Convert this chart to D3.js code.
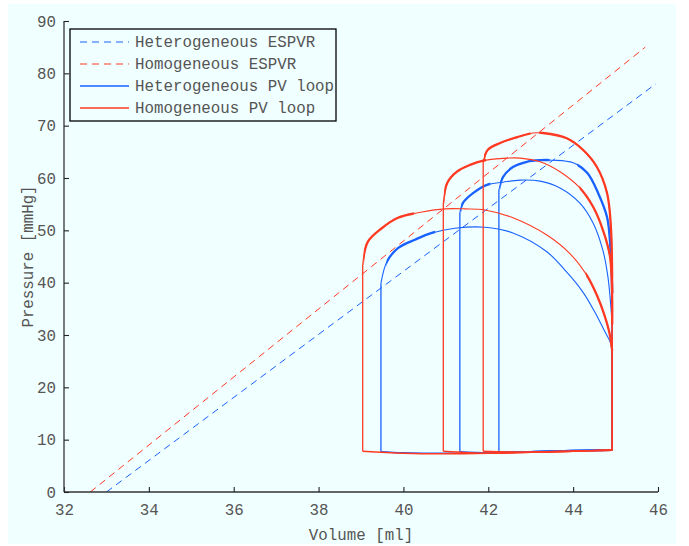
<!DOCTYPE html>
<html>
<head>
<meta charset="utf-8">
<script src="https://cdn.jsdelivr.net/npm/d3@7"></script>
<style>
  html, body { margin: 0; padding: 0; background: #ffffff; }
  svg { display: block; }
</style>
</head>
<body>
<svg id="chart" width="689" height="546"></svg>
<script>
// ---------------- DATA ----------------
const xTicks = [32, 34, 36, 38, 40, 42, 44, 46];
const yTicks = [0, 10, 20, 30, 40, 50, 60, 70, 80, 90];

const legendLabels = ["Heterogeneous ESPVR", "Homogeneous ESPVR", "Heterogeneous PV loop", "Homogeneous PV loop"];

// ESPVR lines (volume ml, pressure mmHg)
const heteroEspvrV = [33.0, 45.95];
const heteroEspvrP = [0, 78];
const homoEspvrV = [32.62, 45.7];
const homoEspvrP = [0, 85];

// End-diastolic volume shared by all loops
const edv = 44.92;

// End-systolic volumes of the three loops
const heteroESV = [39.47, 41.33, 42.25];
const homoESV = [39.04, 40.94, 41.88];

// Ejection arcs, from valve opening (right) to end systole (left): [V, P]
const heteroArcA = [[44.92, 26], [44.88, 28.5], [44.75, 30.6], [44.51, 34.4], [44.23, 38.2], [43.85, 42.0], [43.38, 45.9], [42.58, 49.5], [41.92, 50.6], [41.21, 50.4], [40.67, 49.5], [40.27, 48.2], [39.87, 46.6], [39.61, 44.0], [39.47, 39.9]];
const heteroArcB = [[44.92, 32], [44.82, 41.1], [44.70, 46.2], [44.47, 51.4], [44.16, 55.2], [43.69, 58.1], [43.22, 59.4], [42.75, 59.6], [42.35, 59.2], [41.97, 58.7], [41.64, 57.1], [41.40, 55.2], [41.33, 53.3]];
const heteroArcC = [[44.92, 38], [44.88, 46.5], [44.80, 52.5], [44.59, 57.1], [44.33, 61.0], [44.00, 62.9], [43.52, 63.4], [43.22, 63.4], [42.91, 63.1], [42.58, 62.1], [42.35, 60.2], [42.25, 57.7]];

const homoArcA = [[44.92, 27], [44.85, 30.6], [44.73, 34.0], [44.56, 37.6], [44.33, 41.3], [43.93, 45.5], [43.38, 49.1], [42.58, 52.4], [41.92, 53.9], [41.45, 54.1], [40.98, 54.1], [40.44, 53.5], [39.87, 52.4], [39.49, 50.4], [39.16, 47.8], [39.04, 43.4]];
const homoArcB = [[44.92, 32], [44.87, 44.9], [44.70, 50.1], [44.47, 54.5], [44.16, 58.1], [43.69, 61.2], [43.22, 63.1], [42.75, 63.8], [42.44, 63.8], [41.88, 63.3], [41.57, 62.5], [41.26, 61.2], [41.03, 59.0], [40.94, 55.2]];
const homoArcC = [[44.92, 38], [44.89, 50.6], [44.80, 57.1], [44.56, 62.1], [44.23, 65.4], [43.85, 67.6], [43.29, 68.6], [43.05, 68.6], [42.68, 67.8], [42.28, 66.7], [41.99, 65.4], [41.88, 63.1]];

// Filling phase (bottom of loops)
const fillV = [39.0, 40.0, 41.0, 42.0, 43.0, 44.0, 44.92];
const heteroFillP = [7.7, 7.5, 7.4, 7.5, 7.7, 7.9, 8.0];
const homoFillP = [7.8, 7.4, 7.3, 7.4, 7.6, 7.8, 8.0];

// Volume ranges where the traces are heavy (noisy)
const heteroHeavy = [[[39.6, 40.7]], [[41.36, 42.0]], [[42.28, 43.4], [44.1, 44.92]]];
const homoHeavy = [[[39.06, 40.2], [44.3, 44.92]], [[40.96, 41.9], [44.15, 44.92]], [[41.9, 42.95], [43.2, 44.92]]];

// ---------------- STYLE ----------------
const blue = "#1a62ff";
const red = "#ff3a22";
const bg = "#f0ffff";
const font = "'Liberation Mono', 'Courier New', monospace";
const textColor = "#555";
const fontSize = "15.8px";

// ---------------- LAYOUT ----------------
const svg = d3.select("#chart");
const margin = { left: 64, top: 21, right: 31, bottom: 54 };
const W = 689, H = 546;
const innerW = W - margin.left - margin.right;
const innerH = H - margin.top - margin.bottom;

svg.append("rect").attr("x", 8).attr("y", 4).attr("width", 668).attr("height", 540).attr("fill", bg);

const x = d3.scaleLinear().domain([32, 46]).range([0, innerW]);
const y = d3.scaleLinear().domain([0, 90]).range([innerH, 0]);

const g = svg.append("g").attr("transform", `translate(${margin.left},${margin.top})`);

const defs = svg.append("defs");
defs.append("clipPath").attr("id", "plotclip").append("rect")
  .attr("x", 0).attr("y", 0).attr("width", innerW).attr("height", innerH);

const plot = g.append("g").attr("clip-path", "url(#plotclip)");

// ESPVR dashed lines
function espvr(vs, ps, color) {
  const pts = vs.map((v, i) => [v, ps[i]]);
  plot.append("path")
    .attr("d", d3.line().x(d => x(d[0])).y(d => y(d[1]))(pts))
    .attr("fill", "none").attr("stroke", color).attr("stroke-width", 1)
    .attr("stroke-dasharray", "7,5");
}
espvr(heteroEspvrV, heteroEspvrP, blue);
espvr(homoEspvrV, homoEspvrP, red);

const curve = d3.curveCatmullRom.alpha(0.5);
const lineGen = d3.line().x(d => x(d[0])).y(d => y(d[1])).curve(curve);
const straight = d3.line().x(d => x(d[0])).y(d => y(d[1]));

let clipId = 0;
function drawLoops(arcs, esvs, fillP, heavy, color) {
  arcs.forEach((arc, k) => {
    const esv = esvs[k];
    const right = [[edv, fillP[fillP.length - 1]], arc[0]];
    const left = [arc[arc.length - 1], [esv, fillP[0]]];
    const bottom = [[esv, fillP[0]]].concat(fillV.map((v, i) => [v, fillP[i]]).filter(d => d[0] > esv + 0.2));
    plot.append("path").attr("d", straight(right)).attr("fill", "none").attr("stroke", color).attr("stroke-width", 1.3);
    plot.append("path").attr("d", straight(left)).attr("fill", "none").attr("stroke", color).attr("stroke-width", 1.3);
    plot.append("path").attr("d", lineGen(bottom)).attr("fill", "none").attr("stroke", color).attr("stroke-width", 1.6);
    plot.append("path").attr("d", lineGen(arc)).attr("fill", "none").attr("stroke", color).attr("stroke-width", 1.1);
    // heavy (noisy) segments
    heavy[k].forEach(r => {
      const id = "hv" + (clipId++);
      defs.append("clipPath").attr("id", id).append("rect")
        .attr("x", x(r[0])).attr("y", 0)
        .attr("width", x(r[1]) - x(r[0]) + 2).attr("height", innerH);
      plot.append("g").attr("clip-path", `url(#${id})`)
        .append("path").attr("d", lineGen(arc)).attr("fill", "none")
        .attr("stroke", color).attr("stroke-width", 2.3);
    });
  });
}
drawLoops([heteroArcA, heteroArcB, heteroArcC], heteroESV, heteroFillP, heteroHeavy, blue);
drawLoops([homoArcA, homoArcB, homoArcC], homoESV, homoFillP, homoHeavy, red);

// ---------------- AXES ----------------
const xAxis = d3.axisBottom(x).tickValues(xTicks).tickSize(-5).tickPadding(12).tickFormat(d3.format("d"));
const yAxis = d3.axisLeft(y).tickValues(yTicks).tickSize(-5).tickPadding(8).tickFormat(d3.format("d"));

const gx = g.append("g").attr("transform", `translate(0,${innerH})`).call(xAxis);
const gy = g.append("g").call(yAxis);
[gx, gy].forEach(a => {
  a.select(".domain").attr("stroke", "#333").attr("stroke-width", 1.3);
  a.selectAll(".tick line").attr("stroke", "#222").attr("stroke-width", 1.1);
  a.selectAll(".tick text").attr("fill", textColor).style("font-family", font).style("font-size", fontSize);
});
gx.select(".domain").attr("d", `M0,0H${innerW}`);
gy.select(".domain").attr("d", `M0,0V${innerH}`);

svg.append("text").attr("x", margin.left + innerW / 2).attr("y", 540)
  .attr("text-anchor", "middle").attr("fill", textColor)
  .style("font-family", font).style("font-size", fontSize).text("Volume [ml]");
svg.append("text").attr("transform", `translate(33,${margin.top + innerH / 2}) rotate(-90)`)
  .attr("text-anchor", "middle").attr("fill", textColor)
  .style("font-family", font).style("font-size", fontSize).text("Pressure [mmHg]");

// ---------------- LEGEND ----------------
const leg = svg.append("g").attr("transform", "translate(70,29)");
leg.append("rect").attr("width", 266).attr("height", 92).attr("fill", bg).attr("stroke", "#000").attr("stroke-width", 1.3);
const legColors = [blue, red, blue, red];
const legDash = ["7,5", "7,5", null, null];
legendLabels.forEach((lab, i) => {
  const yy = 13 + i * 22;
  leg.append("line").attr("x1", 10).attr("x2", 59).attr("y1", yy).attr("y2", yy)
    .attr("stroke", legColors[i]).attr("stroke-width", i < 2 ? 1 : 1.3)
    .attr("stroke-dasharray", legDash[i]);
  leg.append("text").attr("x", 65).attr("y", yy + 5).attr("fill", textColor)
    .style("font-family", font).style("font-size", fontSize).text(lab);
});
</script>
</body>
</html>
